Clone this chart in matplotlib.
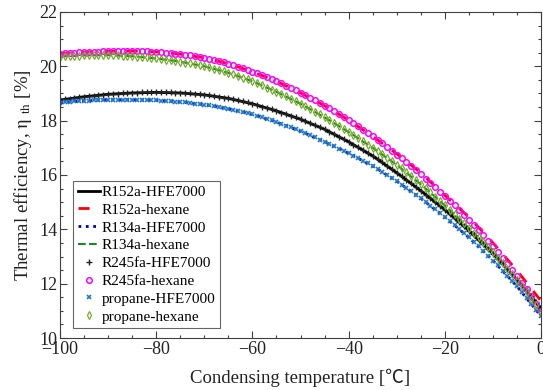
import numpy as np
import matplotlib.pyplot as plt
from matplotlib.ticker import MultipleLocator

plt.rcParams['font.family'] = ['Liberation Serif', 'Noto Sans CJK SC']
plt.rcParams['mathtext.fontset'] = 'stix'

# condensing temperature for the line series (every 5 C) and the marker series (every 1 C)
t_line = np.arange(-100, 1, 5)
t_mark = np.arange(-100, 1, 1)

# line series
r152a_hfe = [18.76, 18.88, 18.97, 19.02, 19.04, 19.02, 18.95, 18.82, 18.62, 18.36, 18.05,
             17.68, 17.22, 16.70, 16.08, 15.42, 14.72, 13.95, 13.10, 12.15, 11.10]
r152a_hex = [20.47, 20.52, 20.55, 20.56, 20.53, 20.45, 20.31, 20.10, 19.80, 19.45, 19.02,
             18.55, 18.02, 17.42, 16.78, 16.08, 15.25, 14.45, 13.50, 12.48, 11.36]
r134a_hfe = [18.66, 18.73, 18.77, 18.77, 18.75, 18.69, 18.59, 18.44, 18.23, 17.95, 17.61,
             17.22, 16.80, 16.33, 15.77, 15.14, 14.45, 13.70, 12.85, 11.90, 10.80]
r134a_hex = [20.36, 20.40, 20.41, 20.37, 20.29, 20.17, 20.00, 19.76, 19.45, 19.06, 18.62,
             18.12, 17.58, 17.00, 16.37, 15.66, 14.88, 14.05, 13.15, 12.12, 10.97]

# marker series
r245fa_hfe = [18.76, 18.79, 18.81, 18.84, 18.86, 18.88, 18.90, 18.92, 18.94, 18.96,
              18.97, 18.98, 18.99, 19.00, 19.01, 19.02, 19.03, 19.04, 19.04, 19.04,
              19.04, 19.04, 19.04, 19.04, 19.03, 19.02, 19.01, 19.00, 18.98, 18.97,
              18.95, 18.93, 18.90, 18.88, 18.85, 18.82, 18.78, 18.75, 18.71, 18.67,
              18.62, 18.57, 18.52, 18.47, 18.42, 18.36, 18.30, 18.24, 18.18, 18.12,
              18.05, 17.98, 17.91, 17.84, 17.76, 17.68, 17.60, 17.51, 17.41, 17.32,
              17.22, 17.12, 17.02, 16.92, 16.81, 16.70, 16.58, 16.46, 16.34, 16.21,
              16.08, 15.95, 15.82, 15.69, 15.56, 15.42, 15.28, 15.14, 15.00, 14.86,
              14.72, 14.57, 14.42, 14.27, 14.11, 13.95, 13.79, 13.62, 13.45, 13.28,
              13.10, 12.92, 12.73, 12.54, 12.35, 12.15, 11.95, 11.75, 11.54, 11.32,
              11.10]
r245fa_hex = [20.47, 20.48, 20.49, 20.50, 20.51, 20.52, 20.53, 20.54, 20.54, 20.55,
              20.55, 20.56, 20.56, 20.56, 20.56, 20.56, 20.56, 20.56, 20.55, 20.54,
              20.53, 20.52, 20.50, 20.49, 20.47, 20.45, 20.42, 20.40, 20.37, 20.34,
              20.31, 20.27, 20.23, 20.19, 20.15, 20.10, 20.05, 19.99, 19.93, 19.87,
              19.80, 19.74, 19.67, 19.60, 19.53, 19.45, 19.37, 19.29, 19.20, 19.11,
              19.02, 18.93, 18.84, 18.75, 18.65, 18.55, 18.45, 18.35, 18.24, 18.13,
              18.02, 17.91, 17.79, 17.67, 17.55, 17.42, 17.29, 17.16, 17.02, 16.89,
              16.75, 16.61, 16.47, 16.32, 16.17, 16.02, 15.86, 15.70, 15.54, 15.38,
              15.22, 15.05, 14.88, 14.71, 14.53, 14.35, 14.16, 13.97, 13.78, 13.58,
              13.38, 13.17, 12.96, 12.74, 12.52, 12.28, 12.04, 11.79, 11.54, 11.27,
              11.00]
propane_hfe = [18.66, 18.68, 18.69, 18.71, 18.72, 18.73, 18.74, 18.75, 18.76, 18.77,
               18.77, 18.77, 18.77, 18.77, 18.77, 18.77, 18.77, 18.77, 18.76, 18.76,
               18.75, 18.74, 18.73, 18.72, 18.70, 18.69, 18.67, 18.65, 18.63, 18.61,
               18.59, 18.57, 18.54, 18.51, 18.47, 18.44, 18.40, 18.36, 18.32, 18.28,
               18.23, 18.18, 18.12, 18.07, 18.01, 17.95, 17.89, 17.82, 17.75, 17.68,
               17.61, 17.54, 17.46, 17.38, 17.30, 17.22, 17.14, 17.06, 16.97, 16.89,
               16.80, 16.71, 16.62, 16.53, 16.43, 16.33, 16.22, 16.11, 16.00, 15.89,
               15.77, 15.65, 15.52, 15.40, 15.27, 15.14, 15.00, 14.87, 14.73, 14.59,
               14.45, 14.30, 14.15, 14.00, 13.85, 13.70, 13.53, 13.37, 13.20, 13.03,
               12.85, 12.67, 12.48, 12.29, 12.10, 11.90, 11.70, 11.49, 11.27, 11.04,
               10.80]
propane_hex = [20.36, 20.37, 20.38, 20.39, 20.39, 20.40, 20.40, 20.41, 20.41, 20.41,
               20.41, 20.41, 20.40, 20.39, 20.38, 20.37, 20.36, 20.35, 20.33, 20.31,
               20.29, 20.27, 20.25, 20.23, 20.20, 20.17, 20.14, 20.11, 20.07, 20.04,
               20.00, 19.96, 19.91, 19.86, 19.81, 19.76, 19.70, 19.64, 19.58, 19.52,
               19.45, 19.38, 19.30, 19.22, 19.14, 19.06, 18.98, 18.89, 18.80, 18.71,
               18.62, 18.53, 18.43, 18.33, 18.23, 18.12, 18.02, 17.91, 17.80, 17.69,
               17.58, 17.47, 17.35, 17.24, 17.12, 17.00, 16.88, 16.76, 16.63, 16.50,
               16.37, 16.24, 16.10, 15.96, 15.81, 15.66, 15.51, 15.36, 15.20, 15.04,
               14.88, 14.72, 14.55, 14.39, 14.22, 14.05, 13.88, 13.70, 13.52, 13.34,
               13.15, 12.95, 12.75, 12.55, 12.34, 12.12, 11.90, 11.68, 11.45, 11.21,
               10.97]

fig = plt.figure(figsize=(5.43, 3.9), dpi=100)
ax = fig.add_axes([0.1105, 0.1333, 0.886, 0.836])

ax.plot(t_line, r152a_hfe, ls='-', lw=2, color='black', label='R152a-HFE7000')
ax.plot(t_line, r152a_hex, ls=(0, (4, 4)), lw=2, color='red', label='R152a-hexane')
ax.plot(t_line, r134a_hfe, ls=':', lw=2, color='#0000cc', label='R134a-HFE7000')
ax.plot(t_line, r134a_hex, ls='--', lw=1.5, color='#1a8a1a', label='R134a-hexane')
ax.plot(t_mark, r245fa_hfe, ls='none', marker='+', ms=4, mew=1, color='#222222', label='R245fa-HFE7000')
ax.plot(t_mark, r245fa_hex, ls='none', marker='o', ms=4, mew=1.1, mfc='none', color='#ff00ff', label='R245fa-hexane')
ax.plot(t_mark, propane_hfe, ls='none', marker='x', ms=3, mew=1.2, color='#1f78c8', label='propane-HFE7000')
ax.plot(t_mark, propane_hex, ls='none', marker='d', ms=4, mew=0.9, mfc='none', color='#77ac30', label='propane-hexane')

ax.set_xlim(-100, 0)
ax.set_ylim(10, 22)
ax.xaxis.set_major_locator(MultipleLocator(20))
ax.xaxis.set_minor_locator(MultipleLocator(5))
ax.yaxis.set_major_locator(MultipleLocator(2))
ax.yaxis.set_minor_locator(MultipleLocator(0.5))
ax.tick_params(which='both', direction='in', top=True, right=True, colors='#404040',
               labelcolor='#222222', labelsize=13, width=0.8)
ax.tick_params(which='major', length=5, pad=2)
ax.tick_params(which='minor', length=2.5)
for s in ax.spines.values():
    s.set_color('#404040')
    s.set_linewidth(0.8)

ax.set_xlabel('Condensing temperature [\u2103]', fontsize=13.5, color='#222222', labelpad=8)
ax.set_ylabel(r'Thermal efficiency, $\mathrm{\eta}$ $_{\mathrm{th}}$ [%]', fontsize=13.5,
              color='#222222', labelpad=4)

leg = ax.legend(loc='lower left', bbox_to_anchor=(0.027, 0.03), fontsize=11, frameon=True,
                fancybox=False, edgecolor='#404040', handlelength=1.5, handletextpad=0.1,
                labelspacing=0.27, borderpad=0.3, borderaxespad=0)
leg.get_frame().set_linewidth(0.8)

fig.savefig('out.png', dpi=100)
